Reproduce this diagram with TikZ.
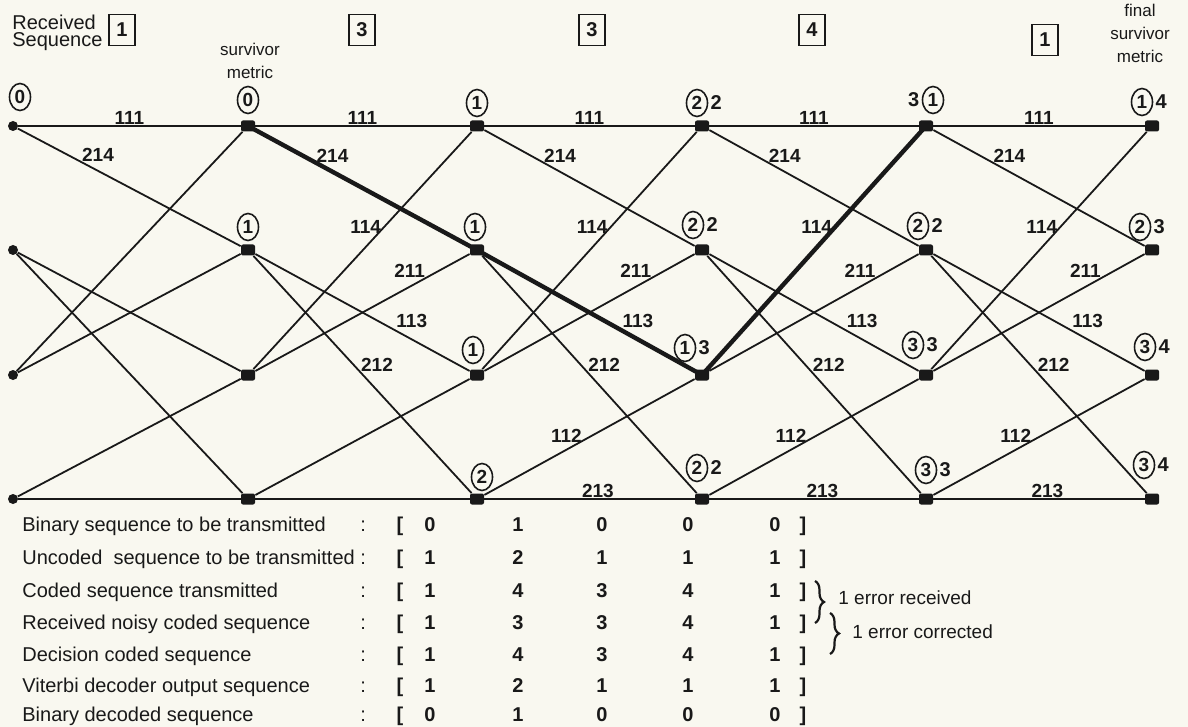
\documentclass[tikz,border=0pt]{standalone}
\usepackage{fontspec}
\setmainfont{Liberation Sans}
\usetikzlibrary{positioning, calc, shapes.geometric, decorations.pathreplacing}

\definecolor{paper}{RGB}{249,248,240}
\definecolor{ink}{RGB}{25,25,25}

\begin{document}
\begin{tikzpicture}[x=0.5pt, y=-0.5pt, ink,
    st/.style={fill=ink, rounded corners=1pt, minimum width=7pt, minimum height=5.5pt, inner sep=0pt},
    st0/.style={circle, fill=ink, minimum size=5pt, inner sep=0pt},
    br/.style={line width=.9pt},
    best/.style={line width=2.2pt, line join=round},
    lbl/.style={font=\fontsize{9.5}{10}\selectfont\bfseries, inner sep=.5pt},
    met/.style={draw, ellipse, line width=.8pt, inner sep=0pt, minimum width=10.5pt, minimum height=13.5pt, font=\fontsize{9.5}{9.5}\selectfont\bfseries},
    num/.style={font=\fontsize{10}{10}\selectfont\bfseries, inner sep=1pt},
    rx/.style={draw, line width=.9pt, minimum width=13pt, minimum height=15.5pt, inner sep=0pt, font=\fontsize{10}{10}\selectfont\bfseries},
    txt/.style={font=\fontsize{10}{10}\selectfont, inner sep=0pt, anchor=base west},
    val/.style={font=\fontsize{10}{10}\selectfont\bfseries, inner sep=0pt, anchor=base},
]
    % paper
    \fill[paper] (0,0) rectangle (1188,727);
    \useasboundingbox (0,0) rectangle (1188,727);

    % trellis states
    \foreach \r/\y in {0/126,1/250,2/375,3/499}
        \node[st0] (n-0-\r) at (13,\y) {};
    \foreach \c/\x in {1/248,2/477,3/702,4/926,5/1152}
        \foreach \r/\y in {0/126,1/250,2/375,3/499}
            \node[st] (n-\c-\r) at (\x,\y) {};

    % branches
    \foreach \c/\d in {0/1,1/2,2/3,3/4,4/5} {
        \draw[br] (n-\c-0) -- (n-\d-0);
        \draw[br] (n-\c-0) -- (n-\d-1);
        \draw[br] (n-\c-1) -- (n-\d-2);
        \draw[br] (n-\c-1) -- (n-\d-3);
        \draw[br] (n-\c-2) -- (n-\d-0);
        \draw[br] (n-\c-2) -- (n-\d-1);
        \draw[br] (n-\c-3) -- (n-\d-2);
        \draw[br] (n-\c-3) -- (n-\d-3);
    }

    % surviving path
    \draw[best] (n-1-0.center) -- (n-2-1.center) -- (n-3-2.center) -- (n-4-0.center);

    % branch labels
    \foreach \c/\d in {0/1,1/2,2/3,3/4,4/5} {
        \path (n-\c-0) -- (n-\d-0) node[lbl, pos=.5, above=0pt] {111};
        \path (n-\c-0) -- (n-\d-1) node[lbl, pos=.36, above=4pt] {214};
    }
    \foreach \c/\d in {1/2,2/3,3/4,4/5} {
        \path (n-\c-2) -- (n-\d-0) node[lbl, pos=.6, left=1pt] {114};
        \path (n-\c-2) -- (n-\d-1) node[lbl, pos=.72, above=4pt] {211};
        \path (n-\c-1) -- (n-\d-2) node[lbl, pos=.73, above=5pt] {113};
        \path (n-\c-1) -- (n-\d-3) node[lbl, pos=.46, right=3pt] {212};
    }
    \foreach \c/\d in {2/3,3/4,4/5} {
        \path (n-\c-3) -- (n-\d-2) node[lbl, pos=.39, above=3pt] {112};
        \path (n-\c-3) -- (n-\d-3) node[lbl, pos=.54, above=0pt] {213};
    }

    % survivor metrics
    \foreach \c/\r/\dx/\dy/\v in {0/0/7/-29/0, 1/0/0/-26/0, 1/1/0/-23/1,
            2/0/0/-23/1, 2/1/-2/-23/1, 2/2/-4/-25/1, 2/3/5/-22/2,
            3/0/-5/-23/2, 3/1/-9/-25/2, 3/2/-17/-27/1, 3/3/-5/-31/2,
            4/0/7/-26/1, 4/1/-8/-24/2, 4/2/-13/-30/3, 4/3/0/-29/3,
            5/0/-10/-24/1, 5/1/-12/-23/2, 5/2/-7/-28/3, 5/3/-8/-34/3}
        \node[met] (m-\c-\r) at ($(n-\c-\r)+(\dx,\dy)$) {\v};
    \foreach \c/\r/\v in {3/0/2, 3/1/2, 3/2/3, 3/3/2, 4/1/2, 4/2/3, 4/3/3,
            5/0/4, 5/1/3, 5/2/4, 5/3/4}
        \node[num, right=0pt of m-\c-\r] {\v};
    \node[num, left=0pt of m-4-0] {3};

    % received sequence
    \node[anchor=west, align=left, inner sep=0pt, font=\fontsize{10}{8.5}\selectfont] (rcv) at (12,33) {Received\\Sequence};
    \foreach \x/\y/\v [count=\i] in {122/30/1, 362/30/3, 592/30/3, 812/30/4, 1045/40/1}
        \node[rx] (b-\i) at (\x,\y) {\v};
    \node[align=center, inner sep=0pt, font=\fontsize{8.5}{11.5}\selectfont] (sm) at (250,61) {survivor\\metric};
    \node[align=center, inner sep=0pt, font=\fontsize{8.5}{11.5}\selectfont] (fsm) at (1140,33) {final\\survivor\\metric};

    % sequences
    \foreach \t/\a/\b/\cc/\dd/\e/\y [count=\i] in {
            {Binary sequence to be transmitted}/0/1/0/0/0/531,
            {Uncoded\ \ sequence to be transmitted}/1/2/1/1/1/564,
            {Coded sequence transmitted}/1/4/3/4/1/597,
            {Received noisy coded sequence}/1/3/3/4/1/629,
            {Decision coded sequence}/1/4/3/4/1/661,
            {Viterbi decoder output sequence}/1/2/1/1/1/692,
            {Binary decoded sequence}/0/1/0/0/0/721} {
        \node[txt] (t-\i) at (22,\y) {\t};
        \node[txt] (c-\i) at (360,\y) {:};
        \node[val] (o-\i) at (400,\y) {[};
        \node[val] (v-\i-1) at (430,\y) {\a};
        \node[val] (v-\i-2) at (518,\y) {\b};
        \node[val] (v-\i-3) at (602,\y) {\cc};
        \node[val] (v-\i-4) at (688,\y) {\dd};
        \node[val] (v-\i-5) at (775,\y) {\e};
        \node[val] (e-\i) at (803,\y) {]};
    }

    % errors
    \draw[decorate, decoration={brace, amplitude=4.5pt}, line width=1.1pt] (815,581) -- (815,623);
    \node[anchor=west, inner sep=0pt, font=\fontsize{9.5}{10}\selectfont] (er1) at (838,598) {1 error received};
    \draw[decorate, decoration={brace, amplitude=4.5pt}, line width=1.1pt] (830,613) -- (830,654);
    \node[anchor=west, inner sep=0pt, font=\fontsize{9.5}{10}\selectfont] (er2) at (852,632) {1 error corrected};
\end{tikzpicture}
\end{document}
